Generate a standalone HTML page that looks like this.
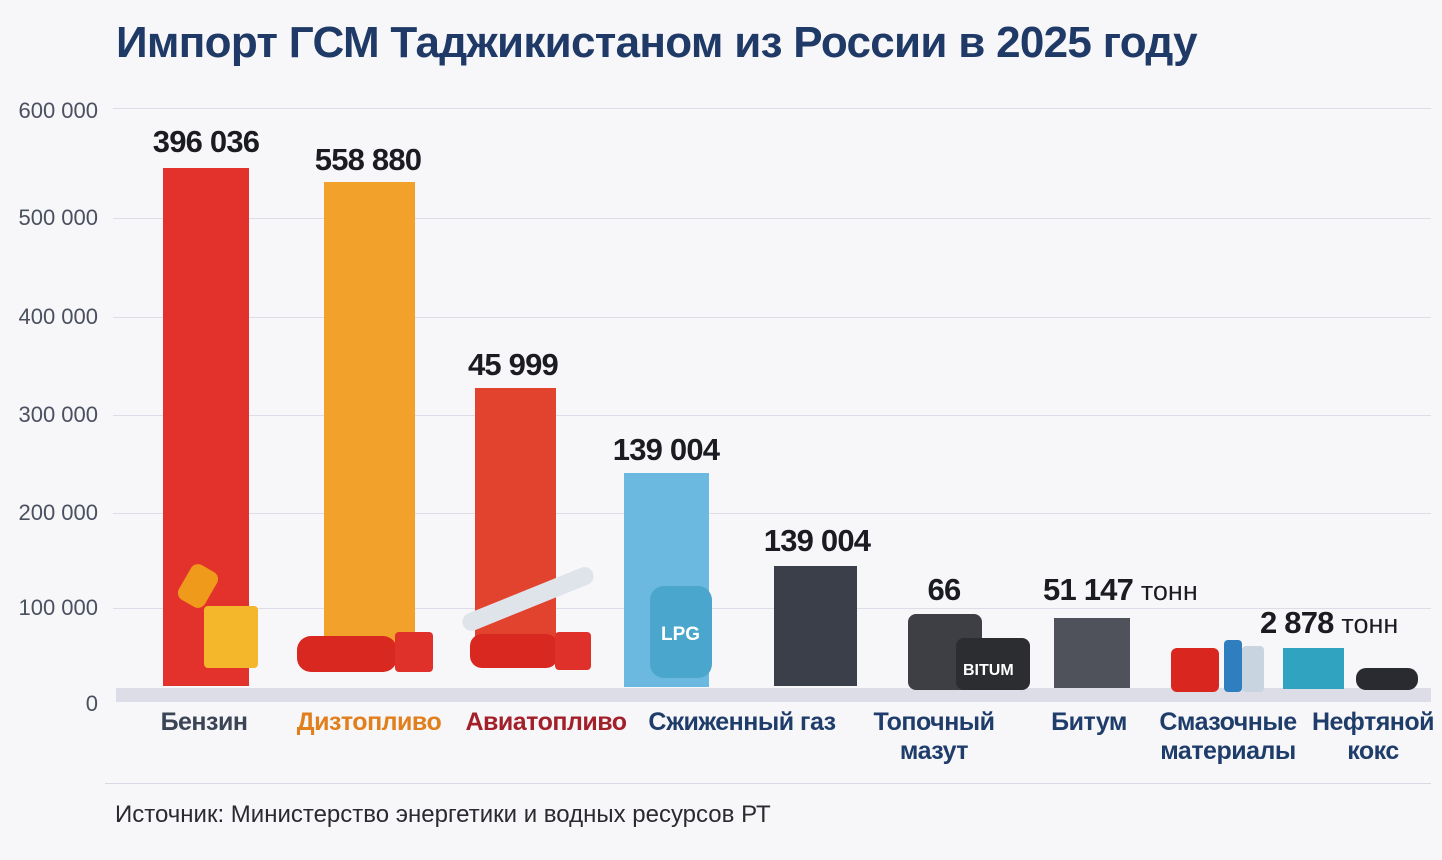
<!DOCTYPE html>
<html><head><meta charset="utf-8"><style>
body{margin:0;width:1442px;height:860px;background:#f7f6f9;font-family:"Liberation Sans","DejaVu Sans",sans-serif;position:relative;overflow:hidden}
.a{position:absolute}
.t{position:absolute;white-space:nowrap}
.yl{position:absolute;right:1344px;font-size:22px;color:#4a5060;width:100px;text-align:right}
.g{position:absolute;left:113px;width:1318px;height:1px;background:#dcdde6}
.v{position:absolute;font-size:31px;font-weight:bold;color:#1b1b22;letter-spacing:-0.8px;transform:translateX(-50%);white-space:nowrap}
.c{position:absolute;font-size:25px;font-weight:bold;color:#1f3d6b;text-align:center;transform:translateX(-50%);line-height:29px;white-space:nowrap;letter-spacing:-0.5px}
</style></head><body>
<div class="t" style="left:116px;top:18px;font-size:44px;font-weight:bold;color:#1f3a66;letter-spacing:-0.7px">Импорт ГСМ Таджикистаном из России в 2025 году</div>

<div class="g" style="top:108px"></div><div class="g" style="top:218px"></div><div class="g" style="top:317px"></div><div class="g" style="top:415px"></div><div class="g" style="top:513px"></div><div class="g" style="top:608px"></div>
<div class="yl" style="top:98px">600 000</div><div class="yl" style="top:205px">500 000</div><div class="yl" style="top:304px">400 000</div><div class="yl" style="top:402px">300 000</div><div class="yl" style="top:500px">200 000</div><div class="yl" style="top:595px">100 000</div><div class="yl" style="top:691px">0</div>

<div class="a" style="left:116px;top:688px;width:1315px;height:14px;background:#dcdde6"></div>

<div class="a" style="left:163px;top:168px;width:86px;height:518px;background:#e3312b"></div>
<div class="a" style="left:324px;top:182px;width:91px;height:470px;background:#f2a22a"></div>
<div class="a" style="left:475px;top:388px;width:81px;height:264px;background:#e2432f"></div>
<div class="a" style="left:624px;top:473px;width:85px;height:214px;background:#6bb8e0"></div>
<div class="a" style="left:774px;top:566px;width:83px;height:120px;background:#3b3f4a"></div>
<div class="a" style="left:1054px;top:618px;width:76px;height:70px;background:#50525b"></div>
<div class="a" style="left:1283px;top:648px;width:61px;height:41px;background:#2fa3c0"></div>

<!-- icons -->
<div class="a" style="left:204px;top:606px;width:54px;height:62px;background:#f4b62a;border-radius:4px"></div>
<div class="a" style="left:183px;top:566px;width:30px;height:40px;background:#f09a1c;border-radius:8px;transform:rotate(30deg)"></div>
<div class="a" style="left:297px;top:636px;width:100px;height:36px;background:#d8281f;border-radius:14px"></div>
<div class="a" style="left:395px;top:632px;width:38px;height:40px;background:#e0302a;border-radius:4px"></div>
<div class="a" style="left:470px;top:634px;width:88px;height:34px;background:#d8281f;border-radius:12px"></div>
<div class="a" style="left:555px;top:632px;width:36px;height:38px;background:#e0302a;border-radius:4px"></div>
<div class="a" style="left:458px;top:590px;width:140px;height:18px;background:#dfe3ea;border-radius:10px;transform:rotate(-22deg)"></div>
<div class="a" style="left:650px;top:586px;width:62px;height:92px;background:#4aa6cc;border-radius:14px"></div>
<div class="t" style="left:661px;top:624px;font-size:19px;font-weight:bold;color:#fff">LPG</div>
<div class="a" style="left:908px;top:614px;width:74px;height:76px;background:#3d3f45;border-radius:8px"></div>
<div class="a" style="left:956px;top:638px;width:74px;height:52px;background:#2c2d31;border-radius:8px"></div>
<div class="t" style="left:963px;top:662px;font-size:16px;font-weight:bold;color:#fff">BITUM</div>
<div class="a" style="left:1171px;top:648px;width:48px;height:44px;background:#d9261e;border-radius:6px"></div>
<div class="a" style="left:1224px;top:640px;width:18px;height:52px;background:#2f7fc0;border-radius:4px"></div>
<div class="a" style="left:1242px;top:646px;width:22px;height:46px;background:#c8d4e0;border-radius:4px"></div>
<div class="a" style="left:1356px;top:668px;width:62px;height:22px;background:#2a2b30;border-radius:10px"></div>

<div class="v" style="left:206px;top:124px">396 036</div>
<div class="v" style="left:368px;top:142px">558 880</div>
<div class="v" style="left:513px;top:347px">45 999</div>
<div class="v" style="left:666px;top:432px">139 004</div>
<div class="v" style="left:817px;top:523px">139 004</div>
<div class="v" style="left:944px;top:572px">66</div>
<div class="t" style="left:1043px;top:572px;font-size:31px;font-weight:bold;color:#1b1b22;letter-spacing:-0.8px">51 147 <span style="font-weight:normal;font-size:27px;letter-spacing:0">тонн</span></div>
<div class="t" style="left:1260px;top:605px;font-size:31px;font-weight:bold;color:#1b1b22;letter-spacing:-0.8px">2 878 <span style="font-weight:normal;font-size:27px;letter-spacing:0">тонн</span></div>

<div class="c" style="left:204px;top:708px;color:#3a4556">Бензин</div>
<div class="c" style="left:369px;top:708px;color:#e07f1c">Дизтопливо</div>
<div class="c" style="left:546px;top:708px;color:#a3202a">Авиатопливо</div>
<div class="c" style="left:742px;top:708px">Сжиженный газ</div>
<div class="c" style="left:934px;top:708px">Топочный<br>мазут</div>
<div class="c" style="left:1089px;top:708px">Битум</div>
<div class="c" style="left:1228px;top:708px">Смазочные<br>материалы</div>
<div class="c" style="left:1373px;top:708px">Нефтяной<br>кокс</div>

<div class="a" style="left:105px;top:783px;width:1326px;height:1px;background:#d8d9e2"></div>
<div class="t" style="left:115px;top:801px;font-size:24px;color:#2a2a30">Источник: Министерство энергетики и водных ресурсов РТ</div>
</body></html>
